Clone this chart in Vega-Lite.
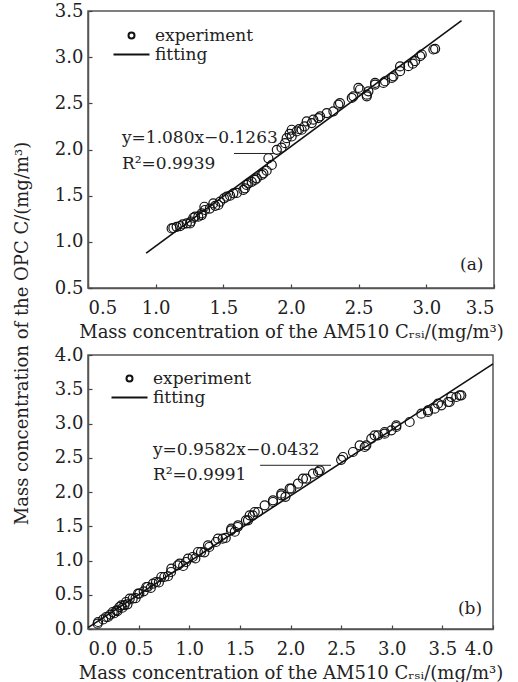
{
  "$schema": "https://vega.github.io/schema/vega-lite/v6.json",
  "padding": {"left": 12, "top": 1, "right": 5, "bottom": 0},
  "bounds": "flush",
  "spacing": 67,
  "resolve": {"scale": {"shape": "independent"}, "legend": {"shape": "independent"}},
  "config": {
    "font": "DejaVu Serif",
    "view": {"stroke": "#555", "strokeWidth": 1.5},
    "axis": {
      "labelFont": "DejaVu Serif", "labelFontSize": 18, "labelColor": "#222",
      "titleFont": "DejaVu Serif", "titleFontSize": 18, "titleFontWeight": "normal", "titleColor": "#222",
      "grid": false, "domainColor": "#555", "domainWidth": 1.5,
      "tickColor": "#444", "tickSize": -4, "tickWidth": 1.2
    },
    "axisX": {"labelPadding": 15, "titlePadding": 6},
    "axisY": {"labelPadding": 9},
    "legend": {
      "labelFont": "DejaVu Serif", "labelFontSize": 17, "labelColor": "#222",
      "symbolSize": 36, "symbolStrokeWidth": 2, "symbolStrokeColor": "#111",
      "labelOffset": 15, "rowPadding": 1, "padding": 0
    }
  },
  "datasets": {
    "a_pts": [
      {"x":1.118,"y":1.145,"kind":"experiment"},{"x":1.131,"y":1.15,"kind":"experiment"},{"x":1.155,"y":1.163,"kind":"experiment"},
      {"x":1.18,"y":1.17,"kind":"experiment"},{"x":1.2,"y":1.188,"kind":"experiment"},{"x":1.23,"y":1.2,"kind":"experiment"},
      {"x":1.254,"y":1.199,"kind":"experiment"},{"x":1.26,"y":1.22,"kind":"experiment"},{"x":1.278,"y":1.261,"kind":"experiment"},
      {"x":1.291,"y":1.272,"kind":"experiment"},{"x":1.315,"y":1.272,"kind":"experiment"},{"x":1.34,"y":1.29,"kind":"experiment"},
      {"x":1.34,"y":1.308,"kind":"experiment"},{"x":1.36,"y":1.38,"kind":"experiment"},{"x":1.365,"y":1.345,"kind":"experiment"},
      {"x":1.4,"y":1.36,"kind":"experiment"},{"x":1.426,"y":1.416,"kind":"experiment"},{"x":1.44,"y":1.39,"kind":"experiment"},
      {"x":1.463,"y":1.399,"kind":"experiment"},{"x":1.476,"y":1.435,"kind":"experiment"},{"x":1.505,"y":1.471,"kind":"experiment"},
      {"x":1.525,"y":1.489,"kind":"experiment"},{"x":1.55,"y":1.5,"kind":"experiment"},{"x":1.574,"y":1.525,"kind":"experiment"},
      {"x":1.6,"y":1.53,"kind":"experiment"},{"x":1.648,"y":1.562,"kind":"experiment"},{"x":1.66,"y":1.58,"kind":"experiment"},
      {"x":1.672,"y":1.616,"kind":"experiment"},{"x":1.685,"y":1.634,"kind":"experiment"},{"x":1.71,"y":1.65,"kind":"experiment"},
      {"x":1.734,"y":1.671,"kind":"experiment"},{"x":1.747,"y":1.688,"kind":"experiment"},{"x":1.784,"y":1.725,"kind":"experiment"},
      {"x":1.796,"y":1.742,"kind":"experiment"},{"x":1.82,"y":1.77,"kind":"experiment"},{"x":1.833,"y":1.905,"kind":"experiment"},
      {"x":1.858,"y":1.833,"kind":"experiment"},{"x":1.895,"y":1.997,"kind":"experiment"},{"x":1.93,"y":2.02,"kind":"experiment"},
      {"x":1.956,"y":2.069,"kind":"experiment"},{"x":1.968,"y":2.123,"kind":"experiment"},{"x":1.99,"y":2.17,"kind":"experiment"},
      {"x":2.005,"y":2.214,"kind":"experiment"},{"x":2.005,"y":2.141,"kind":"experiment"},{"x":2.042,"y":2.196,"kind":"experiment"},
      {"x":2.06,"y":2.22,"kind":"experiment"},{"x":2.079,"y":2.214,"kind":"experiment"},{"x":2.1,"y":2.25,"kind":"experiment"},
      {"x":2.116,"y":2.304,"kind":"experiment"},{"x":2.153,"y":2.286,"kind":"experiment"},{"x":2.165,"y":2.323,"kind":"experiment"},
      {"x":2.202,"y":2.34,"kind":"experiment"},{"x":2.215,"y":2.359,"kind":"experiment"},{"x":2.264,"y":2.395,"kind":"experiment"},
      {"x":2.313,"y":2.413,"kind":"experiment"},{"x":2.35,"y":2.486,"kind":"experiment"},{"x":2.362,"y":2.503,"kind":"experiment"},
      {"x":2.449,"y":2.558,"kind":"experiment"},{"x":2.461,"y":2.576,"kind":"experiment"},{"x":2.498,"y":2.667,"kind":"experiment"},
      {"x":2.51,"y":2.65,"kind":"experiment"},{"x":2.56,"y":2.594,"kind":"experiment"},{"x":2.56,"y":2.576,"kind":"experiment"},
      {"x":2.572,"y":2.63,"kind":"experiment"},{"x":2.621,"y":2.721,"kind":"experiment"},{"x":2.621,"y":2.703,"kind":"experiment"},
      {"x":2.683,"y":2.721,"kind":"experiment"},{"x":2.695,"y":2.739,"kind":"experiment"},{"x":2.745,"y":2.775,"kind":"experiment"},
      {"x":2.757,"y":2.793,"kind":"experiment"},{"x":2.806,"y":2.848,"kind":"experiment"},{"x":2.806,"y":2.9,"kind":"experiment"},
      {"x":2.867,"y":2.902,"kind":"experiment"},{"x":2.9,"y":2.93,"kind":"experiment"},{"x":2.917,"y":2.957,"kind":"experiment"},
      {"x":2.954,"y":3.011,"kind":"experiment"},{"x":2.966,"y":3.029,"kind":"experiment"},{"x":3.052,"y":3.083,"kind":"experiment"},
      {"x":3.065,"y":3.09,"kind":"experiment"}
    ],
    "a_fit": [{"x":0.93,"y":0.878},{"x":3.26,"y":3.395}],
    "a_lead": [{"x":1.579,"x2":1.882,"y":1.957}],
    "a_text": [
      {"x":0.751,"y":2.12,"label":"y=1.080x−0.1263"},
      {"x":0.751,"y":1.848,"label":"R²=0.9939"},
      {"x":3.249,"y":0.75,"label":"(a)"}
    ],
    "b_pts": [
      {"x":0.095,"y":0.078,"kind":"experiment"},{"x":0.099,"y":0.102,"kind":"experiment"},{"x":0.15,"y":0.14,"kind":"experiment"},
      {"x":0.178,"y":0.175,"kind":"experiment"},{"x":0.198,"y":0.175,"kind":"experiment"},{"x":0.22,"y":0.21,"kind":"experiment"},
      {"x":0.244,"y":0.248,"kind":"experiment"},{"x":0.26,"y":0.23,"kind":"experiment"},{"x":0.28,"y":0.273,"kind":"experiment"},
      {"x":0.29,"y":0.26,"kind":"experiment"},{"x":0.31,"y":0.321,"kind":"experiment"},{"x":0.329,"y":0.346,"kind":"experiment"},
      {"x":0.34,"y":0.31,"kind":"experiment"},{"x":0.36,"y":0.35,"kind":"experiment"},{"x":0.375,"y":0.394,"kind":"experiment"},
      {"x":0.39,"y":0.36,"kind":"experiment"},{"x":0.412,"y":0.443,"kind":"experiment"},{"x":0.441,"y":0.443,"kind":"experiment"},
      {"x":0.47,"y":0.45,"kind":"experiment"},{"x":0.494,"y":0.516,"kind":"experiment"},{"x":0.507,"y":0.516,"kind":"experiment"},
      {"x":0.55,"y":0.55,"kind":"experiment"},{"x":0.576,"y":0.613,"kind":"experiment"},{"x":0.589,"y":0.613,"kind":"experiment"},
      {"x":0.62,"y":0.6,"kind":"experiment"},{"x":0.642,"y":0.662,"kind":"experiment"},{"x":0.672,"y":0.686,"kind":"experiment"},
      {"x":0.7,"y":0.68,"kind":"experiment"},{"x":0.724,"y":0.759,"kind":"experiment"},{"x":0.754,"y":0.759,"kind":"experiment"},
      {"x":0.79,"y":0.77,"kind":"experiment"},{"x":0.82,"y":0.832,"kind":"experiment"},{"x":0.823,"y":0.881,"kind":"experiment"},
      {"x":0.886,"y":0.929,"kind":"experiment"},{"x":0.905,"y":0.953,"kind":"experiment"},{"x":0.94,"y":0.92,"kind":"experiment"},
      {"x":0.968,"y":0.978,"kind":"experiment"},{"x":0.988,"y":1.027,"kind":"experiment"},{"x":1.034,"y":1.051,"kind":"experiment"},
      {"x":1.06,"y":1.03,"kind":"experiment"},{"x":1.086,"y":1.124,"kind":"experiment"},{"x":1.116,"y":1.124,"kind":"experiment"},
      {"x":1.15,"y":1.12,"kind":"experiment"},{"x":1.185,"y":1.221,"kind":"experiment"},{"x":1.198,"y":1.197,"kind":"experiment"},
      {"x":1.264,"y":1.27,"kind":"experiment"},{"x":1.284,"y":1.319,"kind":"experiment"},{"x":1.33,"y":1.319,"kind":"experiment"},
      {"x":1.36,"y":1.33,"kind":"experiment"},{"x":1.412,"y":1.441,"kind":"experiment"},{"x":1.415,"y":1.465,"kind":"experiment"},
      {"x":1.45,"y":1.42,"kind":"experiment"},{"x":1.478,"y":1.489,"kind":"experiment"},{"x":1.481,"y":1.514,"kind":"experiment"},
      {"x":1.56,"y":1.587,"kind":"experiment"},{"x":1.58,"y":1.587,"kind":"experiment"},{"x":1.597,"y":1.66,"kind":"experiment"},
      {"x":1.627,"y":1.66,"kind":"experiment"},{"x":1.646,"y":1.708,"kind":"experiment"},{"x":1.679,"y":1.708,"kind":"experiment"},
      {"x":1.745,"y":1.806,"kind":"experiment"},{"x":1.827,"y":1.854,"kind":"experiment"},{"x":1.827,"y":1.878,"kind":"experiment"},
      {"x":1.909,"y":1.951,"kind":"experiment"},{"x":1.909,"y":1.976,"kind":"experiment"},{"x":1.95,"y":1.93,"kind":"experiment"},
      {"x":1.992,"y":2.048,"kind":"experiment"},{"x":2.008,"y":2.048,"kind":"experiment"},{"x":2.074,"y":2.121,"kind":"experiment"},
      {"x":2.123,"y":2.194,"kind":"experiment"},{"x":2.156,"y":2.194,"kind":"experiment"},{"x":2.222,"y":2.268,"kind":"experiment"},
      {"x":2.272,"y":2.292,"kind":"experiment"},{"x":2.288,"y":2.316,"kind":"experiment"},{"x":2.5,"y":2.47,"kind":"experiment"},
      {"x":2.519,"y":2.511,"kind":"experiment"},{"x":2.617,"y":2.584,"kind":"experiment"},{"x":2.683,"y":2.681,"kind":"experiment"},
      {"x":2.733,"y":2.657,"kind":"experiment"},{"x":2.749,"y":2.681,"kind":"experiment"},{"x":2.798,"y":2.778,"kind":"experiment"},
      {"x":2.831,"y":2.827,"kind":"experiment"},{"x":2.864,"y":2.827,"kind":"experiment"},{"x":2.93,"y":2.851,"kind":"experiment"},
      {"x":2.93,"y":2.876,"kind":"experiment"},{"x":2.996,"y":2.901,"kind":"experiment"},{"x":3.045,"y":2.949,"kind":"experiment"},
      {"x":3.045,"y":2.974,"kind":"experiment"},{"x":3.177,"y":3.022,"kind":"experiment"},{"x":3.292,"y":3.143,"kind":"experiment"},
      {"x":3.358,"y":3.168,"kind":"experiment"},{"x":3.358,"y":3.192,"kind":"experiment"},{"x":3.424,"y":3.216,"kind":"experiment"},
      {"x":3.457,"y":3.289,"kind":"experiment"},{"x":3.49,"y":3.265,"kind":"experiment"},{"x":3.556,"y":3.314,"kind":"experiment"},
      {"x":3.572,"y":3.314,"kind":"experiment"},{"x":3.588,"y":3.387,"kind":"experiment"},{"x":3.638,"y":3.387,"kind":"experiment"},
      {"x":3.671,"y":3.411,"kind":"experiment"},{"x":3.687,"y":3.411,"kind":"experiment"}
    ],
    "b_fit": [{"x":0.0,"y":0.02},{"x":4.0,"y":3.87}],
    "b_lead": [{"x":1.7,"x2":2.4,"y":2.39}],
    "b_text": [
      {"x":0.642,"y":2.61,"label":"y=0.9582x−0.0432"},
      {"x":0.642,"y":2.25,"label":"R²=0.9991"},
      {"x":3.654,"y":0.29,"label":"(b)"}
    ]
  },
  "vconcat": [
    {
      "width": 406,
      "height": 277,
      "encoding": {
        "x": {"field": "x", "type": "quantitative",
          "scale": {"domain": [0.5, 3.5], "nice": false, "zero": false},
          "axis": {"values": [0.5, 1.0, 1.5, 2.0, 2.5, 3.0, 3.5], "format": ".1f",
            "title": "Mass concentration of the AM510 Cᵣₛᵢ/(mg/m³)"}},
        "y": {"field": "y", "type": "quantitative",
          "scale": {"domain": [0.5, 3.5], "nice": false, "zero": false},
          "axis": {"values": [0.5, 1.0, 1.5, 2.0, 2.5, 3.0, 3.5], "format": ".1f", "title": null}}
      },
      "layer": [
        {
          "data": {"name": "a_pts"},
          "mark": {"type": "point", "filled": false, "size": 81, "strokeWidth": 1.2, "color": "#111", "opacity": 1},
          "encoding": {
            "shape": {"field": "kind", "type": "nominal",
              "scale": {"domain": ["experiment", "fitting"], "range": ["circle", "M-6,0H6"]},
              "legend": {"title": null, "orient": "none", "legendX": 35, "legendY": 16}}
          }
        },
        {
          "data": {"name": "a_fit"},
          "mark": {"type": "line", "color": "#111", "strokeWidth": 1.6}
        },
        {
          "data": {"name": "a_lead"},
          "mark": {"type": "rule", "color": "#222", "strokeWidth": 1},
          "encoding": {"x2": {"field": "x2"}}
        },
        {
          "data": {"name": "a_text"},
          "mark": {"type": "text", "align": "left", "baseline": "middle", "font": "DejaVu Serif", "fontSize": 17, "color": "#222"},
          "encoding": {"text": {"field": "label"}}
        }
      ]
    },
    {
      "width": 405,
      "height": 274,
      "encoding": {
        "x": {"field": "x", "type": "quantitative",
          "scale": {"domain": [0, 4], "nice": false, "zero": false},
          "axis": {"values": [0, 0.5, 1.0, 1.5, 2.0, 2.5, 3.0, 3.5, 4.0], "format": ".1f",
            "title": "Mass concentration of the AM510 Cᵣₛᵢ/(mg/m³)"}},
        "y": {"field": "y", "type": "quantitative",
          "scale": {"domain": [0, 4], "nice": false, "zero": false},
          "axis": {"values": [0, 0.5, 1.0, 1.5, 2.0, 2.5, 3.0, 3.5, 4.0], "format": ".1f",
            "title": "Mass concentration of the OPC C/(mg/m³)", "titleX": -57, "titleY": -22}}
      },
      "layer": [
        {
          "data": {"name": "b_pts"},
          "mark": {"type": "point", "filled": false, "size": 81, "strokeWidth": 1.2, "color": "#111", "opacity": 1},
          "encoding": {
            "shape": {"field": "kind", "type": "nominal",
              "scale": {"domain": ["experiment", "fitting"], "range": ["circle", "M-6,0H6"]},
              "legend": {"title": null, "orient": "none", "legendX": 33, "legendY": 15}}
          }
        },
        {
          "data": {"name": "b_fit"},
          "mark": {"type": "line", "color": "#111", "strokeWidth": 1.6}
        },
        {
          "data": {"name": "b_lead"},
          "mark": {"type": "rule", "color": "#222", "strokeWidth": 1},
          "encoding": {"x2": {"field": "x2"}}
        },
        {
          "data": {"name": "b_text"},
          "mark": {"type": "text", "align": "left", "baseline": "middle", "font": "DejaVu Serif", "fontSize": 17, "color": "#222"},
          "encoding": {"text": {"field": "label"}}
        }
      ]
    }
  ]
}
